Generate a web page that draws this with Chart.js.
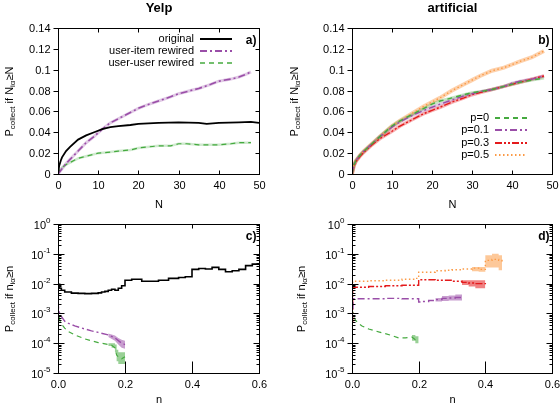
<!DOCTYPE html>
<html>
<head>
<meta charset="utf-8">
<script src="https://cdn.jsdelivr.net/npm/chart.js@4.4.0/dist/chart.umd.min.js"></script>
<style>
  body { margin: 0; background: #fff; }
  .panel { position: absolute; left: 0; top: 0; }
</style>
</head>
<body>
<canvas id="chart-a" class="panel" width="560" height="405"></canvas>
<canvas id="chart-b" class="panel" width="560" height="405"></canvas>
<canvas id="chart-c" class="panel" width="560" height="405"></canvas>
<canvas id="chart-d" class="panel" width="560" height="405"></canvas>
<script>
/**
 * Collection probability panels (Yelp vs artificial)
 */

// ---- panel a: Yelp, P vs N
const aOrigN = [0, 0.3, 0.7, 1, 2, 3, 5, 7, 9, 11, 13, 15, 18, 20, 25, 30, 35, 37, 40, 45, 48, 50];
const aOrigP = [0, 0.008, 0.013, 0.016, 0.022, 0.026, 0.033, 0.037, 0.040, 0.043, 0.045, 0.046, 0.047, 0.048, 0.049, 0.0495, 0.049, 0.048, 0.049, 0.0495, 0.050, 0.049];
const aItemN = [0, 1, 2, 3, 5, 7, 9, 11, 13, 15, 18, 20, 22, 25, 28, 30, 33, 35, 38, 40, 43, 45, 47, 48];
const aItemP = [0, 0.005, 0.010, 0.014, 0.022, 0.030, 0.036, 0.043, 0.049, 0.053, 0.059, 0.063, 0.066, 0.070, 0.074, 0.077, 0.080, 0.082, 0.086, 0.089, 0.091, 0.093, 0.096, 0.098];
const aUserN = [0, 0.5, 1, 2, 3, 5, 7, 10, 13, 15, 18, 20, 25, 28, 30, 32, 35, 38, 40, 43, 45, 48];
const aUserP = [0, 0.004, 0.006, 0.009, 0.011, 0.015, 0.017, 0.020, 0.021, 0.022, 0.023, 0.025, 0.027, 0.027, 0.029, 0.029, 0.028, 0.028, 0.028, 0.029, 0.030, 0.030];

// ---- panel b: artificial, P vs N
const bN   = [0, 0.5, 1, 2, 3, 5, 7, 10, 12, 15, 18, 20, 22, 25, 28, 30, 32, 35, 38, 40, 42, 45, 48];
const bP0  = [0, 0.009, 0.013, 0.018, 0.022, 0.029, 0.036, 0.046, 0.051, 0.057, 0.063, 0.067, 0.070, 0.073, 0.076, 0.078, 0.079, 0.081, 0.084, 0.086, 0.088, 0.090, 0.092];
const bP01 = [0, 0.009, 0.013, 0.018, 0.022, 0.029, 0.036, 0.045, 0.050, 0.056, 0.061, 0.064, 0.067, 0.071, 0.075, 0.077, 0.079, 0.081, 0.084, 0.087, 0.089, 0.091, 0.094];
const bP03 = [0, 0.008, 0.012, 0.017, 0.021, 0.028, 0.034, 0.041, 0.046, 0.052, 0.058, 0.061, 0.064, 0.069, 0.073, 0.076, 0.078, 0.081, 0.084, 0.086, 0.088, 0.091, 0.094];
const bP05 = [0, 0.009, 0.013, 0.018, 0.022, 0.029, 0.036, 0.046, 0.051, 0.058, 0.065, 0.069, 0.073, 0.080, 0.086, 0.090, 0.094, 0.099, 0.102, 0.105, 0.108, 0.112, 0.118];

// ---- panel c: Yelp, P vs n (log)
const cOrigN = [0, 0.005, 0.01, 0.02, 0.04, 0.06, 0.08, 0.1, 0.12, 0.13, 0.14, 0.15, 0.16, 0.17, 0.18, 0.19, 0.2, 0.22, 0.25, 0.28, 0.3, 0.33, 0.36, 0.38, 0.4, 0.42, 0.44, 0.46, 0.48, 0.5, 0.52, 0.54, 0.56, 0.58, 0.6];
const cOrigP = [0.0095, 0.007, 0.006, 0.0052, 0.0048, 0.0047, 0.0046, 0.0047, 0.0049, 0.0052, 0.0055, 0.006, 0.0065, 0.006, 0.007, 0.0085, 0.013, 0.014, 0.012, 0.012, 0.013, 0.015, 0.016, 0.017, 0.030, 0.032, 0.031, 0.035, 0.030, 0.025, 0.027, 0.030, 0.040, 0.045, 0.047];
const cItemN = [0, 0.002, 0.005, 0.01, 0.02, 0.03, 0.05, 0.08, 0.1, 0.12, 0.15, 0.17, 0.19, 0.2];
const cItemP = [2.5e-3, 1.4e-3, 1.0e-3, 8e-4, 5.5e-4, 4.7e-4, 3.8e-4, 3.0e-4, 2.6e-4, 2.3e-4, 1.9e-4, 1.5e-4, 1.0e-4, 9e-5];
const cItemBandN  = [0.15, 0.17, 0.18, 0.19, 0.2];
const cItemBandLo = [1.6e-4, 1.2e-4, 9e-5, 7e-5, 6.5e-5];
const cItemBandHi = [2.1e-4, 1.8e-4, 1.5e-4, 1.3e-4, 1.2e-4];
const cUserN = [0, 0.002, 0.005, 0.01, 0.02, 0.03, 0.05, 0.08, 0.1, 0.12, 0.15, 0.16, 0.17, 0.175, 0.18, 0.19, 0.2];
const cUserP = [1.5e-3, 9e-4, 6e-4, 4.5e-4, 3.2e-4, 2.5e-4, 1.9e-4, 1.4e-4, 1.2e-4, 1.05e-4, 9e-5, 8.5e-5, 7e-5, 4e-5, 3.5e-5, 3e-5, 3.5e-5];
const cUserBandN  = [0.15, 0.16, 0.17, 0.175, 0.18, 0.19, 0.2];
const cUserBandLo = [8e-5, 7e-5, 5e-5, 2.5e-5, 2e-5, 2e-5, 2.2e-5];
const cUserBandHi = [1e-4, 1e-4, 9e-5, 6e-5, 5e-5, 5e-5, 5e-5];

// ---- panel d: artificial, P vs n (log)
const dP0N = [0, 0.003, 0.005, 0.01, 0.02, 0.03, 0.05, 0.08, 0.1, 0.12, 0.14, 0.16, 0.18, 0.19, 0.2];
const dP0P = [1.4e-3, 1.0e-3, 8e-4, 6e-4, 4.5e-4, 3.8e-4, 3e-4, 2.4e-4, 2.1e-4, 1.8e-4, 1.5e-4, 1.5e-4, 1.6e-4, 1.3e-4, 1.2e-4];
const dP0BandN  = [0.18, 0.19, 0.2];
const dP0BandLo = [1.2e-4, 1.0e-4, 9e-5];
const dP0BandHi = [1.9e-4, 1.7e-4, 1.6e-4];
const dP01N = [0, 0.003, 0.05, 0.1, 0.15, 0.2, 0.21, 0.23, 0.25, 0.27, 0.29, 0.31, 0.33];
const dP01P = [1.5e-3, 3.1e-3, 3.1e-3, 3.2e-3, 3.1e-3, 2.4e-3, 2.5e-3, 2.7e-3, 2.9e-3, 3.2e-3, 3.3e-3, 3.4e-3, 3.4e-3];
const dP01BandN  = [0.25, 0.27, 0.29, 0.31, 0.33];
const dP01BandLo = [2.5e-3, 2.6e-3, 2.7e-3, 2.7e-3, 2.8e-3];
const dP01BandHi = [3.3e-3, 3.8e-3, 4.0e-3, 4.3e-3, 4.2e-3];
const dP03N = [0, 0.002, 0.05, 0.1, 0.15, 0.2, 0.25, 0.3, 0.33, 0.35, 0.37, 0.4];
const dP03P = [5e-4, 7.5e-3, 8e-3, 8.5e-3, 8.8e-3, 1.35e-2, 1.3e-2, 1.2e-2, 1.1e-2, 1.05e-2, 1.0e-2, 9.5e-3];
const dP03BandN  = [0.33, 0.35, 0.37, 0.4];
const dP03BandLo = [9e-3, 8e-3, 7e-3, 7e-3];
const dP03BandHi = [1.3e-2, 1.3e-2, 1.3e-2, 1.3e-2];
const dP05N = [0, 0.002, 0.05, 0.1, 0.15, 0.19, 0.2, 0.25, 0.28, 0.3, 0.33, 0.36, 0.38, 0.4, 0.42, 0.44, 0.45];
const dP05P = [1.1e-2, 1.2e-2, 1.25e-2, 1.3e-2, 1.4e-2, 1.5e-2, 2.4e-2, 2.7e-2, 2.8e-2, 2.9e-2, 3.1e-2, 3.3e-2, 3.0e-2, 6.0e-2, 6.5e-2, 6.0e-2, 5.0e-2];
const dP05BandN  = [0.36, 0.38, 0.4, 0.42, 0.44, 0.45];
const dP05BandLo = [2.6e-2, 2.5e-2, 3.5e-2, 3.5e-2, 2.8e-2, 2.5e-2];
const dP05BandHi = [3.6e-2, 3.6e-2, 9.0e-2, 1.0e-1, 9.0e-2, 8.0e-2];

// ---- tick labels
const NTicks = [0, 10, 20, 30, 40, 50];
const NTickLabels = ['0', '10', '20', '30', '40', '50'];
const PTicks = [0, 0.02, 0.04, 0.06, 0.08, 0.1, 0.12, 0.14];
const PTickLabels = ['0', '0.02', '0.04', '0.06', '0.08', '0.1', '0.12', '0.14'];
const nTicks = [0, 0.2, 0.4, 0.6];
const nTickLabels = ['0.0', '0.2', '0.4', '0.6'];
const logDecades = [-5, -4, -3, -2, -1, 0];

const FONT = '"Liberation Sans", Arial, sans-serif';
const COL = {
    black: '#000000',
    purple: '#9a4ea8',
    green: '#45aa3f',
    red: '#e41a1c',
    orange: '#fb9a46'
};
const DASH = {
    solid: [],
    dashDot: [7, 3, 2, 3],
    dashed: [5, 4],
    dashDotDot: [7, 2, 2, 2, 2, 2],
    dotted: [1.5, 2.5]
};

const pts = (xs, ys) => xs.map((x, i) => ({ x: x, y: ys[i] }));

function hexA(hex, a) {
    const n = parseInt(hex.slice(1), 16);
    return `rgba(${n >> 16}, ${(n >> 8) & 255}, ${n & 255}, ${a})`;
}

function lineDs(xs, ys, color, dash, width, stepped) {
    return { data: pts(xs, ys), borderColor: color, borderDash: dash, borderWidth: width,
        pointRadius: 0, fill: false, tension: 0, stepped: !!stepped, order: 0 };
}

// translucent wider line under each curve (the thin error band of panels a/b)
function haloDs(xs, ys, color, width, alpha) {
    return { data: pts(xs, ys), borderColor: hexA(color, alpha), borderWidth: width,
        pointRadius: 0, fill: false, tension: 0, order: 2 };
}

// lo/hi pair filled between (the wide band at the tails in c/d)
function bandDs(list, xs, lo, hi, color, stepped) {
    const loIdx = list.length;
    list.push({ data: pts(xs, lo), borderColor: 'rgba(0,0,0,0)', borderWidth: 0, pointRadius: 0,
        fill: false, stepped: !!stepped, order: 3 });
    list.push({ data: pts(xs, hi), borderColor: 'rgba(0,0,0,0)', borderWidth: 0, pointRadius: 0,
        fill: { target: loIdx }, backgroundColor: hexA(color, 0.55), stepped: !!stepped, order: 3 });
}

// ---- drawing helpers for text/axes (gnuplot look)
function drawPow10(ctx, exp, xRight, y) {
    ctx.font = `11px ${FONT}`;
    const wBase = ctx.measureText('10').width;
    ctx.font = `8px ${FONT}`;
    const sup = String(exp);
    const wSup = ctx.measureText(sup).width;
    ctx.textAlign = 'left';
    ctx.textBaseline = 'middle';
    ctx.fillText(sup, xRight - wSup, y - 4);
    ctx.font = `11px ${FONT}`;
    ctx.fillText('10', xRight - wSup - wBase, y + 1);
}

function drawYLabel(ctx, parts, cx, cy) {
    ctx.save();
    ctx.translate(cx, cy);
    ctx.rotate(-Math.PI / 2);
    let total = 0;
    parts.forEach(p => {
        ctx.font = `${p.sub ? 8 : 11}px ${FONT}`;
        p.w = ctx.measureText(p.t).width;
        total += p.w;
    });
    let x = -total / 2;
    ctx.textAlign = 'left';
    ctx.textBaseline = 'middle';
    parts.forEach(p => {
        ctx.font = `${p.sub ? 8 : 11}px ${FONT}`;
        ctx.fillText(p.t, x, p.sub ? 3 : 0);
        x += p.w;
    });
    ctx.restore();
}

function hLine(ctx, x1, y, x2) {
    ctx.beginPath(); ctx.moveTo(x1, y); ctx.lineTo(x2, y); ctx.stroke();
}
function vLine(ctx, x, y1, y2) {
    ctx.beginPath(); ctx.moveTo(x, y1); ctx.lineTo(x, y2); ctx.stroke();
}

const decoPlugin = {
    id: 'deco',
    afterDatasetsDraw(chart, args, o) {
        const ctx = chart.ctx, a = chart.chartArea;
        const xs = chart.scales.x, ys = chart.scales.y;
        ctx.save();
        ctx.strokeStyle = '#000';
        ctx.fillStyle = '#000';
        ctx.lineWidth = 1;
        ctx.setLineDash([]);
        const L = Math.round(a.left) + 0.5, R = Math.round(a.right) + 0.5;
        const T = Math.round(a.top) + 0.5, B = Math.round(a.bottom) + 0.5;
        ctx.strokeRect(L, T, R - L, B - T);

        // x ticks + labels
        ctx.font = `11px ${FONT}`;
        ctx.textAlign = 'center';
        ctx.textBaseline = 'middle';
        o.xTicks.forEach((v, i) => {
            const px = Math.round(xs.getPixelForValue(v)) + 0.5;
            vLine(ctx, px, B, B - o.xTickLen);
            vLine(ctx, px, T, T + o.xTopLen);
            ctx.fillText(o.xLabels[i], px, B + 11);
        });

        // y ticks + labels
        if (o.log) {
            o.yDecades.forEach(e => {
                const py = Math.round(ys.getPixelForValue(Math.pow(10, e))) + 0.5;
                hLine(ctx, L - 5, py, L + 6);
                hLine(ctx, R, py, R - 6);
                ctx.fillStyle = '#000';
                drawPow10(ctx, e, L - 8, py);
                if (e < 0) {
                    for (let m = 2; m <= 9; m++) {
                        const my = Math.round(ys.getPixelForValue(m * Math.pow(10, e))) + 0.5;
                        hLine(ctx, L, my, L + 3);
                        hLine(ctx, R, my, R - 3);
                    }
                }
            });
        } else {
            ctx.textAlign = 'right';
            o.yTicks.forEach((v, i) => {
                const py = Math.round(ys.getPixelForValue(v)) + 0.5;
                hLine(ctx, L - 5, py, L);
                hLine(ctx, R, py, R - 4);
                ctx.fillText(o.yLabels[i], L - 8, py);
            });
        }

        // titles / axis labels / panel tag
        ctx.textAlign = 'center';
        ctx.textBaseline = 'middle';
        if (o.title) {
            ctx.font = `bold 13px ${FONT}`;
            ctx.fillText(o.title, (L + R) / 2, 8);
        }
        ctx.font = `11px ${FONT}`;
        ctx.fillText(o.xTitle, (L + R) / 2, o.xTitleY);
        drawYLabel(ctx, o.yTitle, o.yTitleX, (T + B) / 2);
        ctx.font = `bold 12px ${FONT}`;
        ctx.textAlign = 'right';
        ctx.fillText(o.tag, R - 3, T + 12);

        // legend: text right aligned, sample to its right
        if (o.legend) {
            const lg = o.legend;
            lg.items.forEach((it, i) => {
                const y = Math.round(lg.y + i * lg.dy);
                ctx.font = `11px ${FONT}`;
                ctx.textAlign = 'right';
                ctx.fillStyle = '#000';
                ctx.fillText(it.text, lg.textRight, y);
                ctx.strokeStyle = it.color;
                ctx.lineWidth = it.width;
                ctx.setLineDash(it.dash);
                hLine(ctx, lg.x0, y, lg.x1);
                ctx.setLineDash([]);
            });
        }
        ctx.restore();
    }
};

function makeChart(id, datasets, xr, yOpts, padding, deco) {
    return new Chart(document.getElementById(id), {
        type: 'line',
        data: { datasets: datasets },
        options: {
            responsive: false,
            animation: false,
            events: [],
            layout: { padding: padding },
            plugins: { legend: { display: false }, tooltip: { enabled: false }, title: { display: false }, deco: deco },
            scales: {
                x: Object.assign({ type: 'linear', display: false }, xr),
                y: Object.assign({ display: false }, yOpts)
            }
        },
        plugins: [decoPlugin]
    });
}

const yLabelN = [{ t: 'P' }, { t: 'collect', sub: 1 }, { t: ' if N' }, { t: 'iα', sub: 1 }, { t: '≥N' }];
const yLabeln = [{ t: 'P' }, { t: 'collect', sub: 1 }, { t: ' if n' }, { t: 'iα', sub: 1 }, { t: '≥n' }];

// ---- panel a
const dsA = [
    lineDs(aOrigN, aOrigP, COL.black, DASH.solid, 1.8),
    lineDs(aItemN, aItemP, COL.purple, DASH.dashDot, 1.6),
    lineDs(aUserN, aUserP, COL.green, DASH.dashed, 1.2),
    haloDs(aItemN, aItemP, COL.purple, 3, 0.3),
    haloDs(aUserN, aUserP, COL.green, 2.5, 0.25)
];
makeChart('chart-a', dsA, { min: 0, max: 50 }, { type: 'linear', min: 0, max: 0.14 },
    { left: 58, top: 28, right: 301, bottom: 231 },
    { xTicks: NTicks, xLabels: NTickLabels, xTickLen: 4, xTopLen: 4, yTicks: PTicks, yLabels: PTickLabels,
      title: 'Yelp', xTitle: 'N', xTitleY: 205, yTitle: yLabelN, yTitleX: 10, tag: 'a)',
      legend: { textRight: 194, x0: 200, x1: 232, y: 39, dy: 12, items: [
          { text: 'original', color: COL.black, dash: DASH.solid, width: 2 },
          { text: 'user-item rewired', color: COL.purple, dash: DASH.dashDot, width: 2 },
          { text: 'user-user rewired', color: COL.green, dash: DASH.dashed, width: 1.6 }
      ] } });

// ---- panel b
const dsB = [
    lineDs(bN, bP0, COL.green, DASH.dashed, 1.4),
    lineDs(bN, bP01, COL.purple, DASH.dashDot, 1.4),
    lineDs(bN, bP03, COL.red, DASH.dashDotDot, 1.4),
    lineDs(bN, bP05, COL.orange, DASH.dotted, 1.4),
    haloDs(bN, bP0, COL.green, 3, 0.3),
    haloDs(bN, bP01, COL.purple, 3, 0.3),
    haloDs(bN, bP03, COL.red, 3.5, 0.35),
    haloDs(bN, bP05, COL.orange, 4, 0.45)
];
makeChart('chart-b', dsB, { min: 0, max: 50 }, { type: 'linear', min: 0, max: 0.14 },
    { left: 352, top: 28, right: 8, bottom: 231 },
    { xTicks: NTicks, xLabels: NTickLabels, xTickLen: 4, xTopLen: 4, yTicks: PTicks, yLabels: PTickLabels,
      title: 'artificial', xTitle: 'N', xTitleY: 205, yTitle: yLabelN, yTitleX: 295, tag: 'b)',
      legend: { textRight: 489, x0: 495, x1: 527, y: 118, dy: 12.3, items: [
          { text: 'p=0', color: COL.green, dash: DASH.dashed, width: 2 },
          { text: 'p=0.1', color: COL.purple, dash: DASH.dashDot, width: 2 },
          { text: 'p=0.3', color: COL.red, dash: DASH.dashDotDot, width: 2 },
          { text: 'p=0.5', color: COL.orange, dash: DASH.dotted, width: 2 }
      ] } });

// ---- panel c
const dsC = [
    lineDs(cOrigN, cOrigP, COL.black, DASH.solid, 1.6, true),
    lineDs(cItemN, cItemP, COL.purple, DASH.dashDot, 1.4),
    lineDs(cUserN, cUserP, COL.green, DASH.dashed, 1.2)
];
bandDs(dsC, cItemBandN, cItemBandLo, cItemBandHi, COL.purple);
bandDs(dsC, cUserBandN, cUserBandLo, cUserBandHi, COL.green, true);
makeChart('chart-c', dsC, { min: 0, max: 0.6 }, { type: 'logarithmic', min: 1e-5, max: 1 },
    { left: 58, top: 224, right: 301, bottom: 32 },
    { xTicks: nTicks, xLabels: nTickLabels, xTickLen: 12, xTopLen: 4, log: true, yDecades: logDecades,
      xTitle: 'n', xTitleY: 400, yTitle: yLabeln, yTitleX: 10, tag: 'c)' });

// ---- panel d
const dsD = [
    lineDs(dP0N, dP0P, COL.green, DASH.dashed, 1.2),
    lineDs(dP01N, dP01P, COL.purple, DASH.dashDot, 1.4, true),
    lineDs(dP03N, dP03P, COL.red, DASH.dashDotDot, 1.4, true),
    lineDs(dP05N, dP05P, COL.orange, DASH.dotted, 1.4, true)
];
bandDs(dsD, dP0BandN, dP0BandLo, dP0BandHi, COL.green, true);
bandDs(dsD, dP01BandN, dP01BandLo, dP01BandHi, COL.purple, true);
bandDs(dsD, dP03BandN, dP03BandLo, dP03BandHi, COL.red, true);
bandDs(dsD, dP05BandN, dP05BandLo, dP05BandHi, COL.orange, true);
makeChart('chart-d', dsD, { min: 0, max: 0.6 }, { type: 'logarithmic', min: 1e-5, max: 1 },
    { left: 352, top: 224, right: 8, bottom: 32 },
    { xTicks: nTicks, xLabels: nTickLabels, xTickLen: 12, xTopLen: 4, log: true, yDecades: logDecades,
      xTitle: 'n', xTitleY: 400, yTitle: yLabeln, yTitleX: 302, tag: 'd)' });
</script>
</body>
</html>
